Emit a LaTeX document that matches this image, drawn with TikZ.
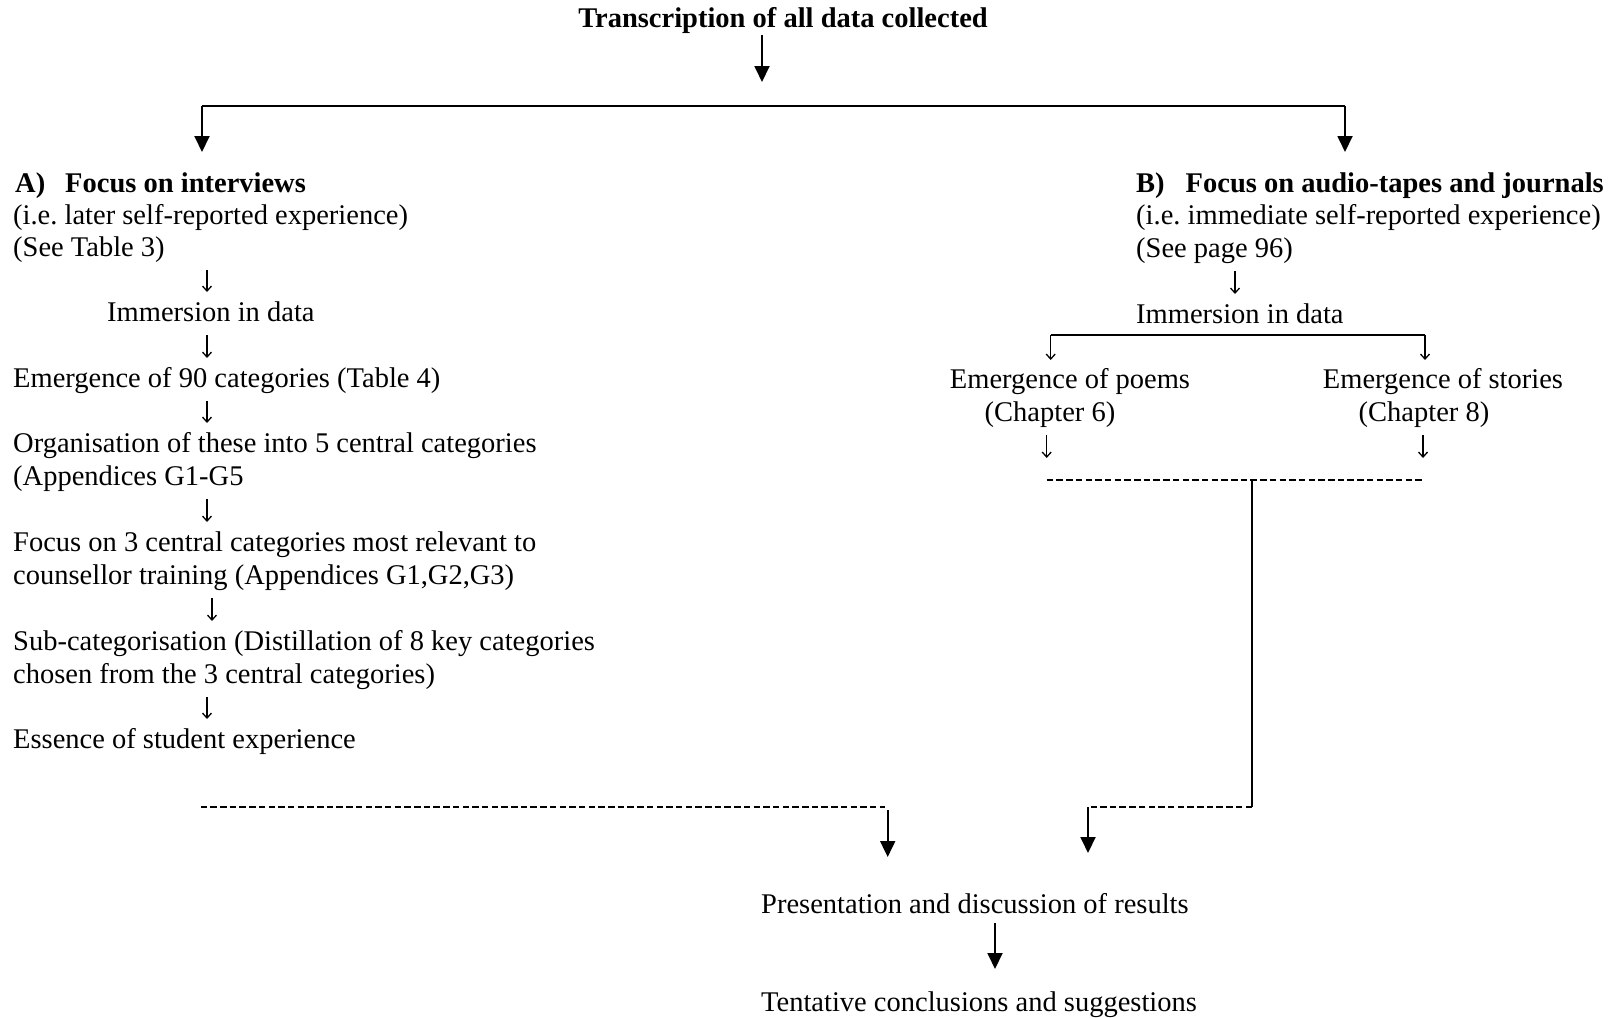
\documentclass[tikz,border=0pt]{standalone}
\usepackage{fontspec}
\setmainfont{Liberation Serif}
\usetikzlibrary{arrows.meta}
\frenchspacing
\tikzset{
  txt/.style={inner sep=0pt, font=\fontsize{28.5pt}{32.5pt}\selectfont\frenchspacing, anchor=base west},
  ctxt/.style={txt, anchor=base},
  btxt/.style={txt, font=\fontsize{28.5pt}{32.5pt}\selectfont\bfseries},
  bigarrow/.style={line width=1.9pt, -{Triangle[length=16pt,width=15pt]}},
  smallarrow/.style={line width=1.3pt, -{Straight Barb[length=5pt,width=9pt]}},
  rulepath/.style={line width=2.6pt},
  dline/.style={line width=2pt, dash pattern=on 6.5pt off 3.2pt},
}
\begin{document}
\begin{tikzpicture}[x=1pt,y=-1pt]
\useasboundingbox (0,0) rectangle (1613,1017);
% title and first split
\node[btxt, anchor=base] (title) at (783,27.5) {Transcription of all data collected};
\coordinate (jt) at (762,106);
\coordinate (bl) at (202,106);
\coordinate (br) at (1345,106);
\draw[rulepath] (bl) -- (br);
\draw[bigarrow, shorten <=7.5pt, shorten >=24pt] (title.base -| jt) -- (jt);

% left column
\node[btxt] (a1) at (15,192) {A)\hspace{20pt}Focus on interviews};
\node[txt] (a2) at (13,224) {(i.e. later self-reported experience)};
\node[txt] (a3) at (13,256) {(See Table 3)};
\node[txt] (a4) at (107,321) {Immersion in data};
\node[txt] (a5) at (13,387) {Emergence of 90 categories (Table 4)};
\node[txt] (a6) at (13,452) {Organisation of these into 5 central categories};
\node[txt] (a6b) at (13,485) {(Appendices G1-G5};
\node[txt] (a7) at (13,551) {Focus on 3 central categories most relevant to};
\node[txt] (a7b) at (13,584) {counsellor training (Appendices G1,G2,G3)};
\node[txt] (a8) at (13,650) {Sub-categorisation (Distillation of 8 key categories};
\node[txt] (a8b) at (13,683) {chosen from the 3 central categories)};
\node[txt] (a9) at (13,748) {Essence of student experience};

\draw[bigarrow, shorten >=40pt] (bl) -- (bl |- a1.base);
\draw[bigarrow, shorten >=40pt] (br) -- (br |- a1.base);

\coordinate (xl) at (207,0);
\coordinate (xl2) at (212,0);
\draw[smallarrow, shorten <=14pt, shorten >=29pt] (a3.base -| xl) -- (a4.base -| xl);
\draw[smallarrow, shorten <=14pt, shorten >=29pt] (a4.base -| xl) -- (a5.base -| xl);
\draw[smallarrow, shorten <=14pt, shorten >=29pt] (a5.base -| xl) -- (a6.base -| xl);
\draw[smallarrow, shorten <=14pt, shorten >=29pt] (a6b.base -| xl) -- (a7.base -| xl);
\draw[smallarrow, shorten <=14pt, shorten >=29pt] (a7b.base -| xl2) -- (a8.base -| xl2);
\draw[smallarrow, shorten <=14pt, shorten >=29pt] (a8b.base -| xl) -- (a9.base -| xl);

% right column
\node[btxt] (b1) at (1136,192) {B)\hspace{21pt}Focus on audio-tapes and journals};
\node[txt] (b2) at (1136,224) {(i.e. immediate self-reported experience)};
\node[txt] (b3) at (1136,257) {(See page 96)};
\node[txt] (b4) at (1136,323) {Immersion in data};
\node[ctxt] (b5) at (1070,388) {Emergence of poems};
\node[ctxt] (b5b) at (1050,421) {(Chapter 6)};
\node[ctxt] (b6) at (1443,388) {Emergence of stories};
\node[ctxt] (b6b) at (1424,421) {(Chapter 8)};

\coordinate (xr) at (1235,0);
\draw[smallarrow, shorten <=14pt, shorten >=29pt] (b3.base -| xr) -- (b4.base -| xr);

\coordinate (kl) at (1050.7,335);
\coordinate (kr) at (1425,335);
\draw[line width=2.4pt] (kl) -- (kr);
\draw[smallarrow, shorten >=28pt] (kl) -- (kl |- b5.base);
\draw[smallarrow, shorten >=28pt] (kr) -- (kr |- b6.base);

\coordinate (dl) at (1046.7,479.5);
\coordinate (dr) at (1423,479.5);
\coordinate (dm) at (1252,479.5);
\coordinate (dc) at (1252,807);
\coordinate (rd) at (1091,807);
\draw[smallarrow, shorten <=14pt, shorten >=21.5pt] (b5b.base -| dl) -- (dl);
\draw[smallarrow, shorten <=14pt, shorten >=21.5pt] (b6b.base -| dr) -- (dr);
\draw[dline] (dl) -- (dr);
\draw[line width=2.4pt] (dm) -- (dc);
\draw[dline] (dc) -- (rd);

% left dashed join
\coordinate (ld1) at (200.6,806.5);
\coordinate (ld2) at (885,806.5);
\draw[dline] (ld1) -- (ld2);

% bottom
\node[txt] (pres) at (761,913) {Presentation and discussion of results};
\node[txt] (tent) at (761,1011) {Tentative conclusions and suggestions};

\coordinate (la) at (887.7,810);
\coordinate (ra) at (1088,807);
\draw[bigarrow, shorten >=56pt] (la) -- (la |- pres.base);
\draw[bigarrow, shorten >=60pt] (ra) -- (ra |- pres.base);

\coordinate (px) at (995,0);
\draw[bigarrow, shorten <=10pt, shorten >=42pt] (pres.base -| px) -- (tent.base -| px);
\end{tikzpicture}
\end{document}
